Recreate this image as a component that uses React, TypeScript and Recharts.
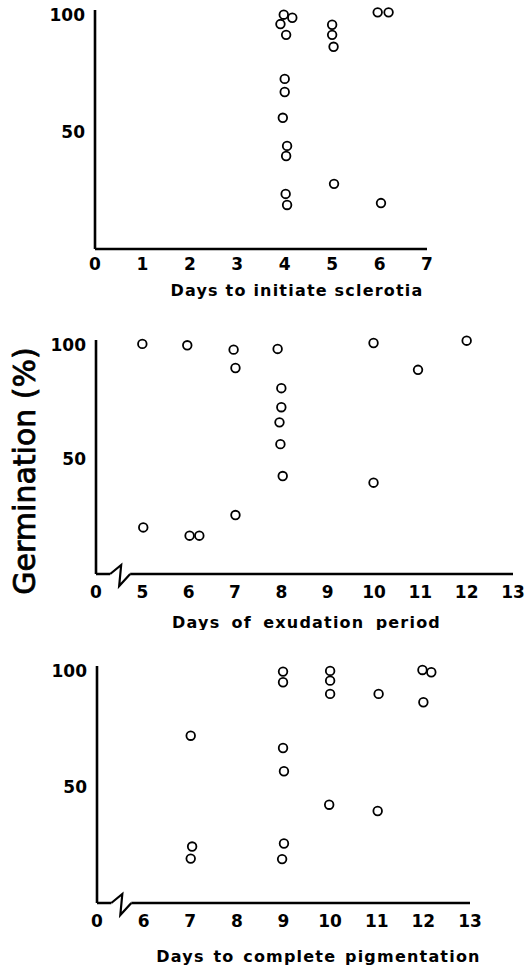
import { ScatterChart, Scatter, XAxis, YAxis, ReferenceDot, Label } from 'recharts';

// Days to initiate sclerotia
const initiateDays = [3.98, 4.16, 3.91, 4.03, 4, 4, 3.96, 4.05, 4.03, 4.02, 4.05, 5, 5, 5.03, 5.04, 5.96, 6.19, 6.03];
const initiateGerm = [100, 98.7, 96, 91.4, 72.6, 67, 56, 44, 39.7, 23.5, 18.8, 95.7, 91.4, 86.3, 27.8, 101, 101, 19.6];

// Days of exudation period
const exudationDays = [5, 5.02, 5.97, 6.02, 6.23, 6.97, 7.01, 7.01, 7.92, 8, 8, 7.96, 7.98, 8.03, 9.99, 9.99, 10.95, 12];
const exudationGerm = [100.3, 20.3, 99.7, 16.7, 16.7, 97.8, 89.8, 25.7, 98.1, 81, 72.7, 66.1, 56.6, 42.7, 100.7, 39.8, 89, 101.7];

// Days to complete pigmentation
const pigmentDays = [7.01, 7.04, 7.01, 8.99, 8.99, 8.99, 9.01, 9.01, 8.97, 10, 10, 10, 9.98, 11.04, 11.02, 11.98, 12.17, 12];
const pigmentGerm = [72, 24.3, 19.1, 99.6, 95, 66.7, 56.7, 25.6, 18.9, 99.9, 95.7, 90, 42.3, 90, 39.6, 100.3, 99.3, 86.4];

const initiateTicks = [0, 1, 2, 3, 4, 5, 6, 7];
const exudationTicks = [4, 5, 6, 7, 8, 9, 10, 11, 12, 13];
const pigmentTicks = [5, 6, 7, 8, 9, 10, 11, 12, 13];
const yTicks = [50, 100];

const toPoints = (xs: number[], ys: number[]) => xs.map((x, i) => ({ x, y: ys[i] }));

const FONT = '"DejaVu Sans", sans-serif';
const tickStyle = { fill: '#000', fontSize: 17, fontWeight: 700, fontFamily: FONT };
const axisLine = { stroke: '#000', strokeWidth: 2.6 };

const OpenCircle = (props: any) => {
  const { cx, cy } = props;
  if (cx == null || cy == null) return null;
  return <circle cx={cx} cy={cy} r={4.3} fill="none" stroke="#000" strokeWidth={1.8} />;
};

const AxisBreak = (props: any) => {
  const { cx, cy } = props;
  if (cx == null || cy == null) return null;
  return (
    <g>
      <rect x={cx - 9} y={cy - 3} width={20} height={6} fill="#fff" />
      <path
        d={`M${cx - 9},${cy} L${cx + 2},${cy - 9} L${cx},${cy + 12} L${cx + 11},${cy}`}
        fill="none"
        stroke="#000"
        strokeWidth={2.2}
      />
    </g>
  );
};

const xTitle = (text: string, dx: number, dy: number, wordSpacing: number) => (props: any) => {
  const vb = props.viewBox;
  return (
    <text
      x={vb.x + vb.width / 2 + dx}
      y={vb.y + dy}
      textAnchor="middle"
      dominantBaseline="central"
      fontFamily={FONT}
      fontSize={16}
      fontWeight={700}
      letterSpacing={1.2}
      wordSpacing={wordSpacing}
      fill="#000"
    >
      {text}
    </text>
  );
};

const yTitle = () => (
  <text
    x={24}
    y={171}
    transform="rotate(-90 24 171)"
    textAnchor="middle"
    dominantBaseline="central"
    fontFamily={FONT}
    fontSize={30}
    fill="#000"
    stroke="#000"
    strokeWidth={0.8}
  >
    Germination (%)
  </text>
);

export default function App() {
  return (
    <div style={{ position: 'absolute', left: 0, top: 0, width: 532, height: 968, background: '#fff' }}>
      <div style={{ position: 'absolute', left: 0, top: 0 }}>
        <ScatterChart width={532} height={300} margin={{ top: 10, right: 105, bottom: 0, left: 35 }}>
          <XAxis
            type="number"
            dataKey="x"
            domain={[0, 7]}
            ticks={initiateTicks}
            tick={tickStyle}
            tickLine={false}
            tickSize={0}
            tickMargin={9}
            axisLine={axisLine}
            height={51}
          >
            <Label content={xTitle('Days to initiate sclerotia', 36, 41, 0)} />
          </XAxis>
          <YAxis
            type="number"
            dataKey="y"
            domain={[0, 102]}
            ticks={yTicks}
            tick={tickStyle}
            tickLine={false}
            tickSize={0}
            tickMargin={10}
            axisLine={axisLine}
            width={60}
          />
          <Scatter data={toPoints(initiateDays, initiateGerm)} shape={OpenCircle} isAnimationActive={false} />
        </ScatterChart>
      </div>

      <div style={{ position: 'absolute', left: 0, top: 300 }}>
        <ScatterChart width={532} height={330} margin={{ top: 40, right: 19, bottom: 0, left: 36 }}>
          <XAxis
            type="number"
            dataKey="x"
            domain={[4, 13]}
            ticks={exudationTicks}
            tickFormatter={(v: number) => (v === 4 ? '0' : String(v))}
            tick={tickStyle}
            tickLine={false}
            tickSize={0}
            tickMargin={12}
            axisLine={axisLine}
            height={56}
          >
            <Label content={xTitle('Days of exudation period', 2, 48, 4.5)} />
          </XAxis>
          <YAxis
            type="number"
            dataKey="y"
            domain={[0, 102]}
            ticks={yTicks}
            tick={tickStyle}
            tickLine={false}
            tickSize={0}
            tickMargin={10}
            axisLine={axisLine}
            width={60}
          >
            <Label content={yTitle} />
          </YAxis>
          <ReferenceDot x={4.5} y={0} shape={AxisBreak} ifOverflow="visible" />
          <Scatter data={toPoints(exudationDays, exudationGerm)} shape={OpenCircle} isAnimationActive={false} />
        </ScatterChart>
      </div>

      <div style={{ position: 'absolute', left: 0, top: 630 }}>
        <ScatterChart width={532} height={338} margin={{ top: 36, right: 62, bottom: 0, left: 37 }}>
          <XAxis
            type="number"
            dataKey="x"
            domain={[5, 13]}
            ticks={pigmentTicks}
            tickFormatter={(v: number) => (v === 5 ? '0' : String(v))}
            tick={tickStyle}
            tickLine={false}
            tickSize={0}
            tickMargin={12}
            axisLine={axisLine}
            height={65}
          >
            <Label content={xTitle('Days to complete pigmentation', 35, 53, 2)} />
          </XAxis>
          <YAxis
            type="number"
            dataKey="y"
            domain={[0, 102]}
            ticks={yTicks}
            tick={tickStyle}
            tickLine={false}
            tickSize={0}
            tickMargin={10}
            axisLine={axisLine}
            width={60}
          />
          <ReferenceDot x={5.5} y={0} shape={AxisBreak} ifOverflow="visible" />
          <Scatter data={toPoints(pigmentDays, pigmentGerm)} shape={OpenCircle} isAnimationActive={false} />
        </ScatterChart>
      </div>
    </div>
  );
}
